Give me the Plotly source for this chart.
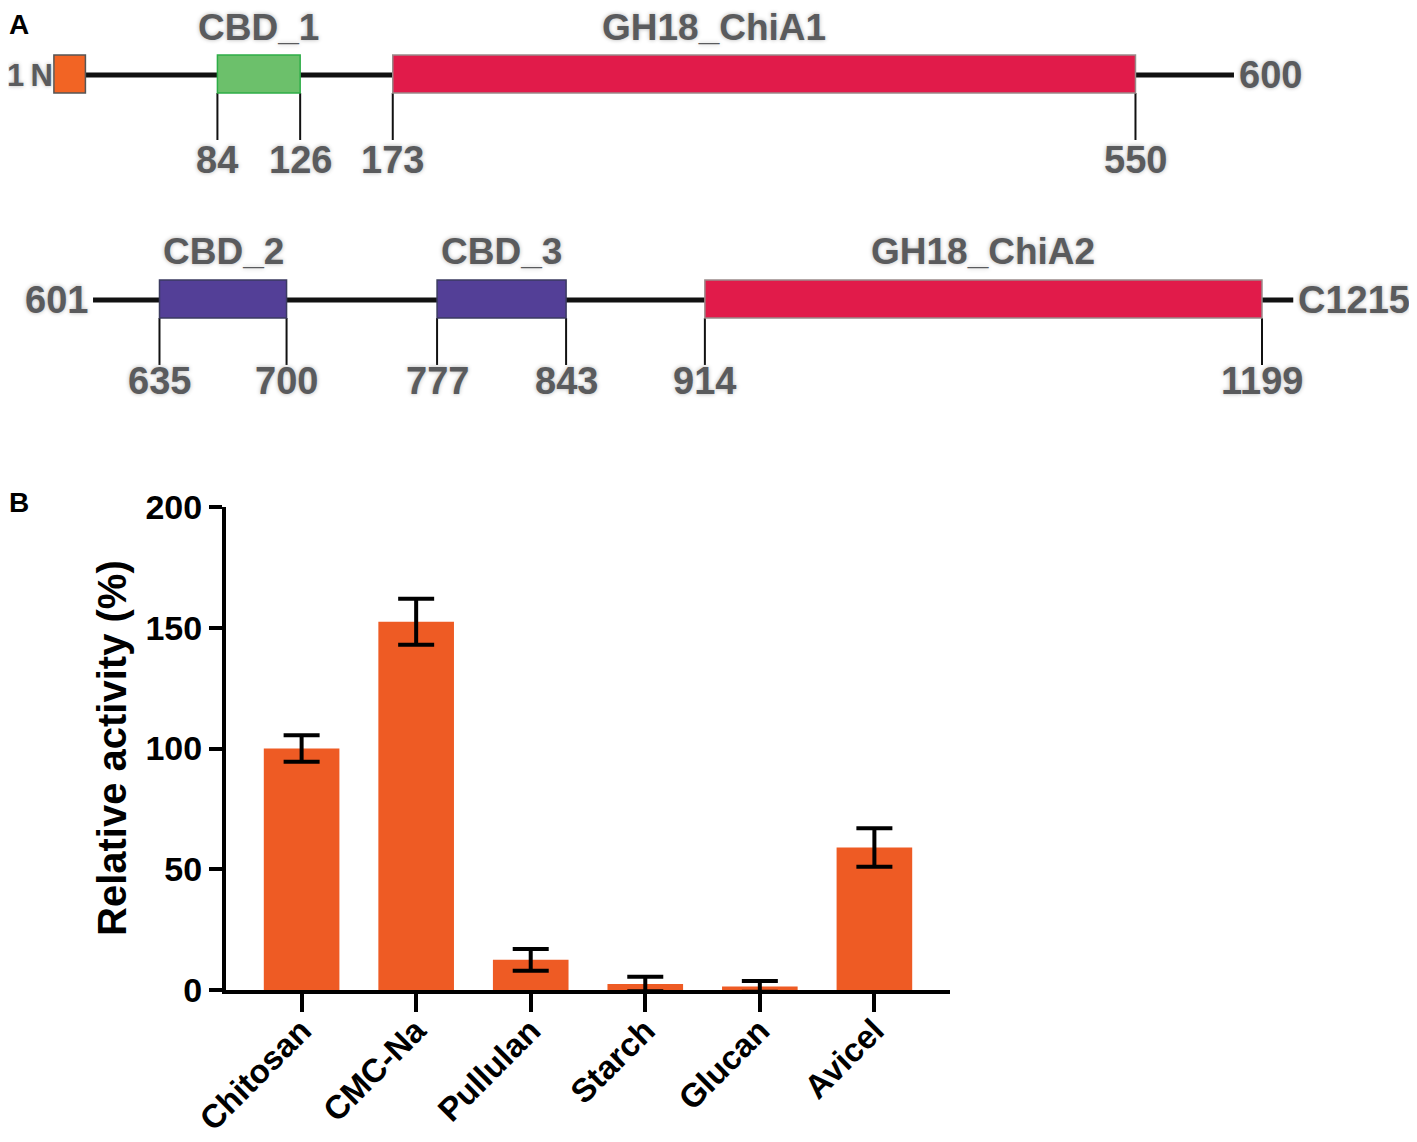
import plotly.graph_objects as go

# ---- Panel A: domain map (residue numbers) ----
row1_range = [1, 600]
row1_dom_start = [1, 84, 173]
row1_dom_end = [17, 126, 550]
row1_dom_name = ["", "CBD_1", "GH18_ChiA1"]
row1_ticks = [84, 126, 173, 550]

row2_range = [601, 1215]
row2_dom_start = [635, 777, 914]
row2_dom_end = [700, 843, 1199]
row2_dom_name = ["CBD_2", "CBD_3", "GH18_ChiA2"]
row2_ticks = [635, 700, 777, 843, 914, 1199]

# ---- Panel B: substrate specificity ----
substrates = ["Chitosan", "CMC-Na", "Pullulan", "Starch", "Glucan", "Avicel"]
activity = [100, 152.5, 12.5, 2.5, 1.5, 59]
activity_sd = [5.5, 9.5, 4.5, 3, 2.2, 8]

# page puts the plot 8px in from the top-left corner
OFF = 8
W, H = 1417 - OFF, 1142 - OFF
FONT = "Liberation Sans, Arial, sans-serif"
GREY = "#5a5b5d"
GLOW = "0px 0px 4px #b5b5b5"

row1_fill = ["#F26424", "#6CC06B", "#E11B4A"]
row1_line = ["#555555", "#2EAD47", "#9a8a8a"]
row2_fill = ["#533F97", "#533F97", "#E11B4A"]
row2_line = ["#3b3b60", "#3b3b60", "#9a8a8a"]


def fx(p):
    return (p - OFF) / W


def fy(p):
    return 1 - (p - OFF) / H


fig = go.Figure()

# bar chart
fig.add_trace(go.Bar(
    x=substrates, y=activity, width=0.66,
    marker=dict(color="#EE5B24", line=dict(width=0)),
    error_y=dict(type="data", array=activity_sd, visible=True,
                 color="black", thickness=4, width=18),
    xaxis="x", yaxis="y", showlegend=False,
))

annotations = []
shapes = []

# rows of the domain map
rows = [
    ("x2", "y2", row1_range, row1_dom_start, row1_dom_end, row1_dom_name, row1_ticks,
     row1_fill, row1_line, 75, 160),
    ("x3", "y3", row2_range, row2_dom_start, row2_dom_end, row2_dom_name, row2_ticks,
     row2_fill, row2_line, 300, 381),
]
for xa, ya, rng, ds, de, names, ticks, fills, lines, yc, ylab in rows:
    fig.add_trace(go.Scatter(
        x=rng, y=[yc, yc], mode="lines", line=dict(color="#111111", width=5),
        xaxis=xa, yaxis=ya, showlegend=False, hoverinfo="skip",
    ))
    for s, e, nm, fc, lc in zip(ds, de, names, fills, lines):
        shapes.append(dict(type="rect", xref=xa, yref=ya, x0=s, x1=e,
                           y0=yc - 20, y1=yc + 18, fillcolor=fc,
                           line=dict(color=lc, width=1.5), layer="above"))
        if nm:
            shift = -50 if nm == "GH18_ChiA1" else 0
            annotations.append(dict(
                xref=xa, yref=ya, x=(s + e) / 2, y=yc - 48, text=nm,
                showarrow=False, xshift=shift, xanchor="center", yanchor="middle",
                font=dict(family=FONT, size=37, color=GREY, weight="bold", shadow=GLOW)))
    for t in ticks:
        fig.add_trace(go.Scatter(
            x=[t, t], y=[yc + 18, yc + 65], mode="lines",
            line=dict(color="#111111", width=2),
            xaxis=xa, yaxis=ya, showlegend=False, hoverinfo="skip",
        ))
        annotations.append(dict(
            xref=xa, yref=ya, x=t, y=ylab, text=str(t), showarrow=False,
            xanchor="center", yanchor="middle",
            font=dict(family=FONT, size=38, color=GREY, weight="bold", shadow=GLOW)))

# end labels
end_font = dict(family=FONT, size=38, color=GREY, weight="bold", shadow=GLOW)
annotations += [
    dict(xref="x2", yref="y2", x=row1_range[0], y=75, text="1\u2009N", xanchor="right",
         xshift=1, showarrow=False,
         font=dict(family=FONT, size=31, color=GREY, weight="bold", shadow=GLOW)),
    dict(xref="x2", yref="y2", x=row1_range[1], y=75, text=str(row1_range[1]),
         xanchor="left", xshift=3, showarrow=False, font=end_font),
    dict(xref="x3", yref="y3", x=row2_range[0], y=300, text=str(row2_range[0]),
         xanchor="right", xshift=-3, showarrow=False, font=end_font),
    dict(xref="x3", yref="y3", x=row2_range[1], y=300, text="C" + str(row2_range[1]),
         xanchor="left", xshift=3, showarrow=False, font=end_font),
]

# panel letters and y title
annotations += [
    dict(xref="paper", yref="paper", x=fx(19), y=fy(24), text="A", showarrow=False,
         xanchor="center", yanchor="middle",
         font=dict(family=FONT, size=28, color="black", weight="bold")),
    dict(xref="paper", yref="paper", x=fx(19), y=fy(502), text="B", showarrow=False,
         xanchor="center", yanchor="middle",
         font=dict(family=FONT, size=28, color="black", weight="bold")),
    dict(xref="paper", yref="paper", x=fx(112), y=fy(748), text="Relative activity (%)",
         textangle=-90, showarrow=False, xanchor="center", yanchor="middle",
         font=dict(family=FONT, size=40, color="black", weight="bold")),
]

axis_font = dict(family=FONT, size=34, color="black", weight="bold")
fig.update_layout(
    width=W, height=H,
    margin=dict(l=0, r=0, t=0, b=0, autoexpand=False),
    plot_bgcolor="white", paper_bgcolor="white",
    xaxis=dict(domain=[fx(226), fx(950)], range=[-0.66, 5.66], anchor="y",
               showline=True, linecolor="black", linewidth=4, automargin=False,
               ticks="outside", ticklen=18, tickwidth=4, tickcolor="black",
               tickangle=-45, ticklabelstandoff=-14,
               tickfont=dict(family=FONT, size=33, color="black", weight="bold"),
               showgrid=False, zeroline=False),
    yaxis=dict(domain=[fy(990), fy(507)], range=[0, 200], anchor="x",
               tickvals=[0, 50, 100, 150, 200], automargin=False,
               showline=True, linecolor="black", linewidth=4,
               ticks="outside", ticklen=13, tickwidth=4, tickcolor="black",
               tickfont=axis_font, showgrid=False, zeroline=False),
    xaxis2=dict(domain=[0, 1], range=[-22.3, 692.9], anchor="y2", visible=False,
                automargin=False),
    yaxis2=dict(domain=[fy(210), 1], range=[210, OFF], anchor="x2", visible=False,
                automargin=False),
    xaxis3=dict(domain=[0, 1], range=[557.5, 1278.3], anchor="y3", visible=False,
                automargin=False),
    yaxis3=dict(domain=[fy(440), fy(210)], range=[440, 210], anchor="x3", visible=False,
                automargin=False),
    shapes=shapes,
    annotations=annotations,
)

fig.write_html("out.html")
